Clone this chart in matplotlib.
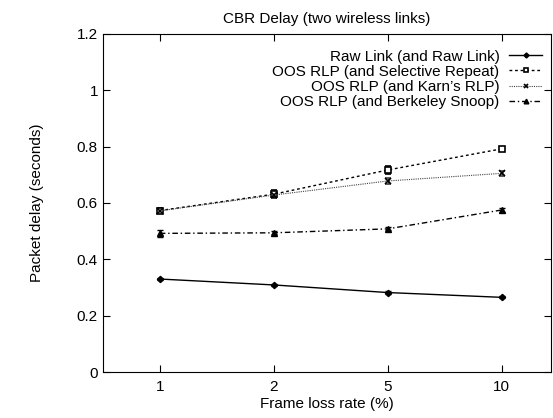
import matplotlib
matplotlib.use("Agg")
import matplotlib.pyplot as plt

plt.rcParams['font.family'] = ['Liberation Sans', 'DejaVu Sans']

loss_rates = ['1', '2', '5', '10']
raw_link = [0.330, 0.309, 0.282, 0.265]
selective_repeat = [0.573, 0.631, 0.717, 0.792]
karn_rlp = [0.572, 0.628, 0.678, 0.705]
berkeley_snoop = [0.492, 0.494, 0.508, 0.575]

raw_err = [0.004, 0.004, 0.004, 0.004]
sr_err = [0.010, 0.015, 0.015, 0.008]
karn_err = [0.006, 0.010, 0.010, 0.008]
snoop_err = [0.012, 0.005, 0.005, 0.006]

labels = ['Raw Link (and Raw Link)',
          'OOS RLP (and Selective Repeat)',
          "OOS RLP (and Karn\u2019s RLP)",
          'OOS RLP (and Berkeley Snoop)']

fig = plt.figure(figsize=(5.53, 4.18), dpi=100)
ax = fig.add_axes([0.186, 0.110, 0.810, 0.809])

x = list(range(len(loss_rates)))
ax.errorbar(x, raw_link, yerr=raw_err, color='black', lw=1.0, ls='-',
            marker='D', ms=3.2, mfc='black', capsize=2, elinewidth=0.8, label=labels[0])
ax.errorbar(x, selective_repeat, yerr=sr_err, color='black', lw=1.0, ls=(0, (2, 2)),
            marker='s', ms=4.2, mfc='white', mew=1.2, capsize=2, elinewidth=0.8, label=labels[1])
ax.errorbar(x, karn_rlp, yerr=karn_err, color='#444444', lw=0.8, ls=(0, (1, 1)),
            marker='x', ms=4, mec='black', mew=1.2, capsize=2, elinewidth=0.8, label=labels[2])
ax.errorbar(x, berkeley_snoop, yerr=snoop_err, color='black', lw=1.0, ls=(0, (4, 2, 1, 2)),
            marker='^', ms=4.2, mfc='black', capsize=2, elinewidth=0.8, label=labels[3])

ax.set_xlim(-0.5, 3.43)
ax.set_ylim(0, 1.2)
ax.set_xticks(x)
ax.set_xticklabels(loss_rates)
ax.set_yticks([0, 0.2, 0.4, 0.6, 0.8, 1.0, 1.2])
ax.set_yticklabels(['0', '0.2', '0.4', '0.6', '0.8', '1', '1.2'])
ax.tick_params(direction='in', top=True, right=True, labelsize=11, length=5, width=0.8)
ax.tick_params(axis='x', pad=6)

ax.set_xlabel('Frame loss rate (%)', fontsize=11, labelpad=2)
ax.set_ylabel('Packet delay (seconds)', fontsize=11, labelpad=24)
ax.set_title('CBR Delay (two wireless links)', fontsize=11, pad=8)

handles, labs = ax.get_legend_handles_labels()
handles = [h[0] for h in handles]
leg = ax.legend(handles, labs, loc='upper right', bbox_to_anchor=(1.005, 0.985), frameon=False,
                markerfirst=False, fontsize=11, handlelength=2.2, handletextpad=0.6,
                labelspacing=0.08, borderpad=0.2, markerscale=0.8)

plt.savefig('out.png', dpi=100)
